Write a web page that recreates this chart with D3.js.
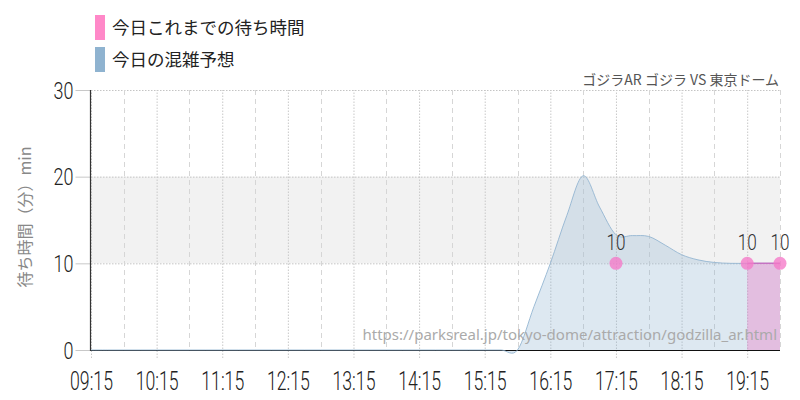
<!DOCTYPE html>
<html><head><meta charset="utf-8">
<script src="https://cdn.jsdelivr.net/npm/d3@7"></script>
<style>
body{margin:0;background:#fff;}
svg{display:block;}
</style></head>
<body>
<svg id="chart" width="800" height="400"></svg>
<script>
// ---- data ----
const forecastTimes = ["09:15","09:30","09:45","10:00","10:15","10:30","10:45","11:00","11:15","11:30","11:45","12:00","12:15","12:30","12:45","13:00","13:15","13:30","13:45","14:00","14:15","14:30","14:45","15:00","15:15","15:30","15:45","16:00","16:15","16:30","16:45","17:00","17:15","17:30","17:45","18:00","18:15","18:30","18:45","19:00","19:15","19:30","19:45"];
const forecastValues = [0,0,0,0,0,0,0,0,0,0,0,0,0,0,0,0,0,0,0,0,0,0,0,0,0,0,0,5,10,15.5,20.1,16.5,13.3,13.2,13.1,12.1,11,10.4,10.1,10,10,10,10];
const actualTimes = ["17:15","17:45","18:15","18:45","19:15","19:45"];
const actualValues = [10,null,null,null,10,10];
const xTickLabels = ["09:15","10:15","11:15","12:15","13:15","14:15","15:15","16:15","17:15","18:15","19:15"];
const halfTicks = ["09:45","10:45","11:45","12:45","13:45","14:45","15:45","16:45","17:45","18:45","19:45"];
const yTicks = [0,10,20,30];
const legendLabels = ["今日これまでの待ち時間","今日の混雑予想"];
const title = "ゴジラAR ゴジラ VS 東京ドーム";
const yTitle = "待ち時間（分）min";
const sourceUrl = "https://parksreal.jp/tokyo-dome/attraction/godzilla_ar.html";

// ---- helpers ----
const toMin = s => { const [h,m] = s.split(":").map(Number); return h*60+m; };
const svg = d3.select("#chart");
const L = 91, R = 780, T = 90, B = 350;
const x = d3.scaleLinear().domain([toMin("09:15"), toMin("19:45")]).range([L, R]);
const y = d3.scaleLinear().domain([0, 30]).range([B, T]);
const numFont = "Roboto, 'Liberation Sans', sans-serif";
const cjkFont = "'Noto Sans CJK JP', 'Noto Sans', sans-serif";

// gray band 10-20
svg.append("rect").attr("x", L).attr("y", y(20)).attr("width", R - L).attr("height", y(10) - y(20)).attr("fill", "#f2f2f2");

// horizontal dotted grid
svg.append("g").selectAll("line").data(yTicks.filter(d => d > 0)).join("line")
  .attr("x1", L).attr("x2", R).attr("y1", d => y(d) + 0.5).attr("y2", d => y(d) + 0.5)
  .attr("stroke", "#c4c4c4").attr("stroke-dasharray", "1.5,1.5");

// half-hour dashed verticals
svg.append("g").selectAll("line").data(halfTicks).join("line")
  .attr("x1", d => Math.round(x(toMin(d))) + 0.5).attr("x2", d => Math.round(x(toMin(d))) + 0.5)
  .attr("y1", T).attr("y2", B)
  .attr("stroke", "#d6d6d6").attr("stroke-dasharray", "5,4");

// x axis (with dotted full-height gridlines)
const xAxis = d3.axisBottom(x).tickValues(xTickLabels.map(toMin)).tickFormat((d, i) => xTickLabels[i])
  .tickSize(-(B - T)).tickPadding(0);
const gx = svg.append("g").attr("transform", `translate(0,${B})`).call(xAxis);
gx.select(".domain").remove();
gx.selectAll(".tick line").attr("stroke", "#c8c8c8").attr("stroke-dasharray", "1.5,1.5").attr("y2", -(B - T)).attr("y1", 8);
gx.selectAll(".tick text").attr("font-family", numFont).attr("font-weight", 300).attr("font-size", 26)
  .attr("fill", "#222").attr("y", 40).attr("dy", 0).attr("transform", "scale(0.68,1)");

// y axis
const yAxis = d3.axisLeft(y).tickValues(yTicks).tickSize(15).tickPadding(0);
const gy = svg.append("g").attr("transform", `translate(${L - 0.5},0)`).call(yAxis);
gy.select(".domain").remove();
gy.selectAll(".tick line").attr("stroke", "#c8c8c8");
gy.selectAll(".tick text").attr("font-family", numFont).attr("font-weight", 300).attr("font-size", 23)
  .attr("fill", "#222").attr("x", -17 / 0.78).attr("dy", "0.36em").attr("transform", "scale(0.78,1)");
svg.append("line").attr("x1", L - 0.5).attr("x2", L - 0.5).attr("y1", T).attr("y2", B + 1).attr("stroke", "#333").attr("stroke-width", 1.2);

// forecast area
const fData = forecastTimes.map((t, i) => ({ t: toMin(t), v: forecastValues[i] }));
const areaF = d3.area().x(d => x(d.t)).y0(y(0)).y1(d => y(d.v)).curve(d3.curveCatmullRom.alpha(0));
const lineF = d3.line().x(d => x(d.t)).y(d => y(d.v)).curve(d3.curveCatmullRom.alpha(0));
svg.append("path").datum(fData).attr("d", areaF).attr("fill", "rgba(143,179,208,0.3)");

// x axis baseline
svg.append("line").attr("x1", L).attr("x2", R).attr("y1", B + 0.5).attr("y2", B + 0.5).attr("stroke", "#111").attr("stroke-width", 1.2);
svg.append("path").datum(fData).attr("d", lineF).attr("fill", "none").attr("stroke", "rgba(143,179,208,0.85)").attr("stroke-width", 1);

// actual (pink)
const aData = actualTimes.map((t, i) => ({ t: toMin(t), v: actualValues[i] }));
const areaA = d3.area().defined(d => d.v != null).x(d => x(d.t)).y0(y(0)).y1(d => y(d.v));
const lineA = d3.line().defined(d => d.v != null).x(d => x(d.t)).y(d => y(d.v));
svg.append("path").datum(aData).attr("d", areaA).attr("fill", "rgba(236,120,196,0.38)");
svg.append("path").datum(aData).attr("d", lineA).attr("fill", "none").attr("stroke", "rgba(200,100,190,0.8)").attr("stroke-width", 1.5);
const pts = aData.filter(d => d.v != null);
svg.append("g").selectAll("circle").data(pts).join("circle")
  .attr("cx", d => x(d.t)).attr("cy", d => y(d.v)).attr("r", 6.5).attr("fill", "rgba(245,120,200,0.78)");
svg.append("g").selectAll("text").data(pts).join("text")
  .attr("transform", d => `translate(${x(d.t)},${y(d.v) - 13}) scale(0.78,1)`)
  .attr("text-anchor", "middle").attr("font-family", numFont).attr("font-weight", 300).attr("font-size", 22)
  .attr("fill", "#333").text(d => d.v);

// source watermark
svg.append("text").attr("x", 777).attr("y", 340).attr("text-anchor", "end")
  .attr("font-family", "'Noto Sans', sans-serif").attr("font-size", 15).attr("fill", "#aaa").text(sourceUrl);

// title
svg.append("text").attr("x", 779).attr("y", 85).attr("text-anchor", "end")
  .attr("font-family", cjkFont).attr("font-size", 14).attr("fill", "#555").text(title);

// y title
svg.append("text").attr("transform", `translate(31,217) rotate(-90)`).attr("text-anchor", "middle")
  .attr("font-family", cjkFont).attr("font-size", 16).attr("fill", "#888").text(yTitle);

// legend
const legendColors = ["#ff88c8", "#8fb3d0"];
const lg = svg.append("g").selectAll("g").data(legendLabels).join("g")
  .attr("transform", (d, i) => `translate(95,${15 + i * 32})`);
lg.append("rect").attr("width", 10).attr("height", 25).attr("fill", (d, i) => legendColors[i]);
lg.append("text").attr("x", 17).attr("y", 19).attr("font-family", cjkFont).attr("font-size", 17.5)
  .attr("fill", "#222").text(d => d);
</script>
</body></html>
